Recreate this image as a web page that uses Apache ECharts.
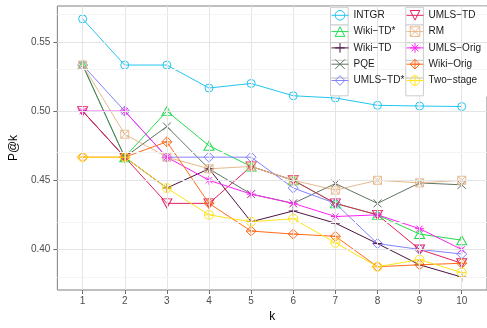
<!DOCTYPE html>
<html>
<head>
<meta charset="utf-8">
<script src="https://cdn.jsdelivr.net/npm/echarts@6/dist/echarts.min.js"></script>
<style>
  html, body { margin: 0; padding: 0; background: #fff; }
  #chart { width: 487px; height: 328px; }
</style>
</head>
<body>
<div id="chart"></div>
<script>
// Precision at rank k for each retrieval method
const ks = [1, 2, 3, 4, 5, 6, 7, 8, 9, 10];
const INTGR      = [0.5667, 0.5333, 0.5333, 0.5167, 0.5200, 0.5111, 0.5095, 0.5042, 0.5037, 0.5033];
const wikiTDStar = [0.5333, 0.4667, 0.5000, 0.4750, 0.4600, 0.4500, 0.4333, 0.4250, 0.4111, 0.4067];
const wikiTD     = [0.5000, 0.4667, 0.4444, 0.4583, 0.4200, 0.4278, 0.4190, 0.4042, 0.3889, 0.3800];
const PQE        = [0.5333, 0.4667, 0.4889, 0.4583, 0.4400, 0.4333, 0.4476, 0.4333, 0.4481, 0.4467];
const umlsTDStar = [0.5333, 0.5000, 0.4667, 0.4667, 0.4667, 0.4444, 0.4333, 0.4042, 0.4000, 0.3967];
const umlsTD     = [0.5000, 0.4667, 0.4333, 0.4333, 0.4600, 0.4500, 0.4333, 0.4250, 0.4000, 0.3900];
const RM         = [0.5333, 0.4833, 0.4667, 0.4583, 0.4600, 0.4500, 0.4429, 0.4500, 0.4481, 0.4500];
const umlsOrig   = [0.5000, 0.5000, 0.4667, 0.4500, 0.4400, 0.4333, 0.4238, 0.4250, 0.4150, 0.4000];
const wikiOrig   = [0.4667, 0.4667, 0.4778, 0.4333, 0.4133, 0.4111, 0.4095, 0.3875, 0.3889, 0.3900];
const twoStage   = [0.4667, 0.4667, 0.4444, 0.4250, 0.4200, 0.4222, 0.4048, 0.3875, 0.3926, 0.3833];

const yTicks = [0.40, 0.45, 0.50, 0.55];
const yMinor = [0.375, 0.425, 0.475, 0.525, 0.575];

const FONT = '"Liberation Sans", Arial, Helvetica, sans-serif';

// Open point shapes drawn as outlines
const SHAPES = {
  circle:      'path://M0 10 A10 10 0 1 1 20 10 A10 10 0 1 1 0 10 Z',
  triangle:    'path://M10 0 L20 18 L0 18 Z',
  plus:        'path://M10 0 L10 20 M0 10 L20 10',
  cross:       'path://M0 0 L20 20 M20 0 L0 20',
  diamond:     'path://M10 0 L20 10 L10 20 L0 10 Z',
  triangleDn:  'path://M0 0 L20 0 L10 18 Z',
  squareX:     'path://M0 0 L20 0 L20 20 L0 20 Z M0 0 L20 20 M20 0 L0 20',
  asterisk:    'path://M10 0 L10 20 M0 10 L20 10 M3 3 L17 17 M17 3 L3 17',
  diamondPlus: 'path://M10 0 L20 10 L10 20 L0 10 Z M10 0 L10 20 M0 10 L20 10',
  circlePlus:  'path://M0 10 A10 10 0 1 1 20 10 A10 10 0 1 1 0 10 Z M10 0 L10 20 M0 10 L20 10'
};

const methods = [
  { name: 'INTGR',      values: INTGR,      color: '#22C5F0', shape: 'circle',      size: [8, 8] },
  { name: 'Wiki\u2212TD*',  values: wikiTDStar, color: '#22DD4E', shape: 'triangle',    size: [10, 9] },
  { name: 'Wiki\u2212TD',   values: wikiTD,     color: '#4C1342', shape: 'plus',        size: [9, 9] },
  { name: 'PQE',        values: PQE,        color: '#5F7462', shape: 'cross',       size: [8, 8] },
  { name: 'UMLS\u2212TD*',  values: umlsTDStar, color: '#8383FF', shape: 'diamond',     size: [10, 10] },
  { name: 'UMLS\u2212TD',   values: umlsTD,     color: '#E2215D', shape: 'triangleDn',  size: [10, 9] },
  { name: 'RM',         values: RM,         color: '#E7B98C', shape: 'squareX',     size: [8, 8] },
  { name: 'UMLS\u2212Orig', values: umlsOrig,   color: '#FF22F5', shape: 'asterisk',    size: [9, 9] },
  { name: 'Wiki\u2212Orig', values: wikiOrig,   color: '#FF6C1C', shape: 'diamondPlus', size: [10, 10] },
  { name: 'Two\u2212stage', values: twoStage,   color: '#FFE41A', shape: 'circlePlus',  size: [9, 9] }
];

const clear = 'rgba(0,0,0,0)';

const series = methods.map(m => ({
  name: m.name,
  type: 'line',
  z: 2,
  data: ks.map((k, i) => [k, m.values[i]]),
  symbol: SHAPES[m.shape],
  symbolSize: m.size,
  showSymbol: true,
  lineStyle: { color: m.color, width: 1 },
  itemStyle: { color: clear, borderColor: m.color, borderWidth: 1 },
  emphasis: { disabled: true },
  animation: false
}));

// Panel grid lines (major and minor)
const gridLines = [];
ks.forEach(k => gridLines.push({ xAxis: k, lineStyle: { color: '#E4E4E4', width: 1, type: 'solid' } }));
yMinor.forEach(v => gridLines.push({ yAxis: v, lineStyle: { color: '#F4F4F4', width: 1, type: 'solid' } }));
yTicks.forEach(v => gridLines.push({ yAxis: v, lineStyle: { color: '#E4E4E4', width: 1, type: 'solid' } }));

series.unshift({
  name: '__grid',
  type: 'line',
  z: 1,
  data: [[5, 0.45]],
  showSymbol: false,
  symbol: 'none',
  lineStyle: { opacity: 0 },
  silent: true,
  animation: false,
  markLine: {
    silent: true,
    symbol: 'none',
    label: { show: false },
    animation: false,
    data: gridLines
  }
});

const legendItem = m => ({
  name: m.name,
  itemStyle: { color: clear, borderColor: m.color, borderWidth: 1 },
  lineStyle: { color: m.color, width: 1 }
});

const legendCommon = {
  orient: 'vertical',
  top: 10,
  itemWidth: 17,
  itemHeight: 12,
  itemGap: 5.7,
  textStyle: { fontFamily: FONT, fontSize: 10, color: '#1A1A1A' },
  selectedMode: false,
  padding: 0,
  z: 6
};

// Legend background and key boxes
const legendDecor = [
  { type: 'rect', z: 4, z2: 0, silent: true,
    shape: { x: 330, y: 6.6, width: 160, height: 90 },
    style: { fill: '#FFFFFF' } }
];
[330.5, 405.8].forEach(x => {
  for (let r = 0; r < 5; r++) {
    legendDecor.push({
      type: 'rect', z: 5, z2: 1, silent: true,
      shape: { x: x, y: 7.3 + r * 17.7, width: 17.6, height: 17.7 },
      style: { fill: '#FFFFFF', stroke: '#CCCCCC', lineWidth: 1 }
    });
  }
});

const option = {
  backgroundColor: '#FFFFFF',
  animation: false,
  grid: {
    left: 53, top: 6, right: -5.6, bottom: 32,
    show: true, borderColor: '#7F7F7F', borderWidth: 1, backgroundColor: '#FFFFFF'
  },
  xAxis: {
    type: 'value',
    min: 0.4, max: 10.6,
    name: 'k',
    nameLocation: 'middle',
    nameGap: 21,
    nameTextStyle: { fontFamily: FONT, fontSize: 12, color: '#000' },
    axisLine: { show: false },
    splitLine: { show: false },
    axisTick: { show: true, customValues: ks, length: 4, lineStyle: { color: '#6E6E6E' } },
    axisLabel: { customValues: ks, margin: 6, fontFamily: FONT, fontSize: 10, color: '#4D4D4D' }
  },
  yAxis: {
    type: 'value',
    min: 0.37067, max: 0.576,
    name: 'P@k',
    nameLocation: 'middle',
    nameGap: 31,
    nameRotate: 90,
    nameTextStyle: { fontFamily: FONT, fontSize: 12, color: '#000' },
    axisLine: { show: false },
    splitLine: { show: false },
    axisTick: { show: true, customValues: yTicks, length: 4, lineStyle: { color: '#6E6E6E' } },
    axisLabel: {
      customValues: yTicks, margin: 7, fontFamily: FONT, fontSize: 10, color: '#4D4D4D',
      formatter: v => v.toFixed(2)
    }
  },
  legend: [
    Object.assign({ left: 331, data: methods.slice(0, 5).map(legendItem) }, legendCommon),
    Object.assign({ left: 406, data: methods.slice(5).map(legendItem) }, legendCommon)
  ],
  graphic: legendDecor,
  series: series
};

const chart = echarts.init(document.getElementById('chart'), null, { renderer: 'canvas' });
chart.setOption(option);
</script>
</body>
</html>
